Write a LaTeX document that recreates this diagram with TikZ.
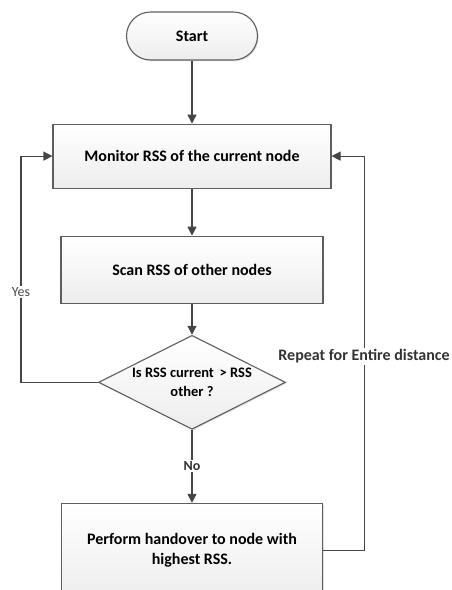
\documentclass[tikz,border=0pt]{standalone}
\usepackage{fontspec}
\setmainfont{Carlito}
\usepackage{xcolor}
\usepackage{tikz}
\usetikzlibrary{positioning, arrows.meta, shapes.geometric, shadows}

\definecolor{linegray}{HTML}{454545}
\definecolor{edgegray}{HTML}{5E5E5E}

\begin{document}
\begin{tikzpicture}[x=1pt, y=1pt,
  box/.style={draw=edgegray, line width=1.1pt, top color=white, bottom color=gray!14,
              drop shadow={shadow xshift=1.2pt, shadow yshift=-1.2pt, opacity=0.25},
              font=\fontsize{16}{20}\selectfont\bfseries, align=center, inner sep=0pt},
  term/.style={box, rounded corners=24pt, minimum width=131pt, minimum height=48pt},
  proc/.style={box, minimum width=262pt, minimum height=67pt},
  decision/.style={box, diamond, aspect=2, minimum width=187pt, minimum height=94pt,
                   font=\fontsize{14.5}{19}\selectfont\bfseries},
  arrow/.style={-{Triangle[length=9pt, width=9pt]}, draw=linegray, line width=1.1pt},
  lbl/.style={fill=white, inner sep=1.5pt, text=black!80}
]
\useasboundingbox (0,0) rectangle (452,-590);

\node[term] (start) at (192,-36) {Start};
\node[proc, minimum width=278pt, minimum height=64pt, below=63pt of start] (monitor)
  {Monitor RSS of the current node};
\node[proc, below=47pt of monitor] (scan) {Scan RSS of other nodes};
\node[decision, below=31pt of scan] (check) {Is RSS current~\,> RSS\\ other ?};
\node[proc, minimum width=261pt, minimum height=94pt, below=73pt of check] (handover)
  {Perform handover to node with\\ highest RSS.};

\draw[arrow] (start.south) -- (monitor.north);
\draw[arrow] (monitor.south) -- (scan.north);
\draw[arrow] (scan.south) -- (check.north);
\draw[arrow] (check.south) -- node[lbl, font=\fontsize{14}{16}\selectfont\bfseries] {No} (handover.north);
\draw[arrow] (check.west) -- ++(-77,0) |- node[lbl, pos=0.2, font=\fontsize{14}{16}\selectfont, text=black!70] {Yes} (monitor.west);
\draw[arrow] (handover.east) -- ++(41,0) |- node[lbl, pos=0.246, font=\fontsize{16}{18}\selectfont\bfseries] {Repeat for Entire distance} (monitor.east);
\end{tikzpicture}
\end{document}
